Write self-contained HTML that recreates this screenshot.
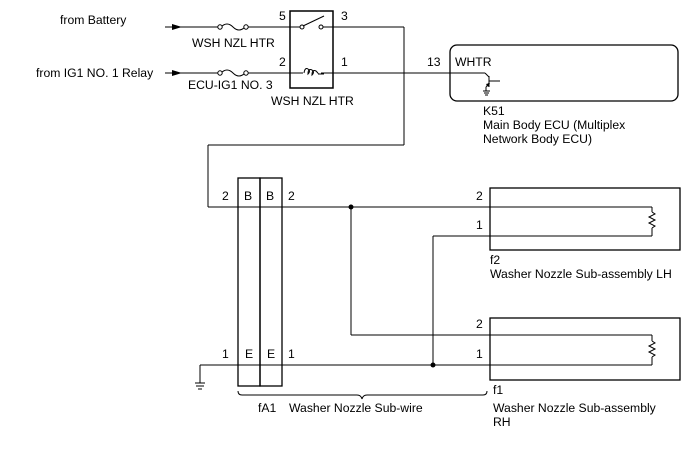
<!DOCTYPE html>
<html><head><style>body{margin:0;background:#fff}svg{display:block}text{font-family:"Liberation Sans",sans-serif;font-size:12.2px;fill:#000}</style></head><body>
<svg width="688" height="463" viewBox="0 0 688 463" xmlns="http://www.w3.org/2000/svg">
<g stroke="#000" fill="none" stroke-width="1">
<line x1="165" y1="27" x2="218" y2="27"/>
<path d="M221,27 q6,-6 12,0 q6,6 12,0"/>
<circle cx="220" cy="27" r="2.2" fill="#fff"/><circle cx="246" cy="27" r="2.2" fill="#fff"/>
<line x1="248" y1="27" x2="300" y2="27"/>
<line x1="165" y1="73" x2="218" y2="73"/>
<path d="M221,73 q6,-6 12,0 q6,6 12,0"/>
<circle cx="220" cy="73" r="2.2" fill="#fff"/><circle cx="246" cy="73" r="2.2" fill="#fff"/>
<line x1="248" y1="73" x2="303" y2="73"/>
<rect x="290" y="11" width="43" height="77" stroke-width="1.5"/>
<circle cx="302" cy="27" r="2" fill="#fff"/><circle cx="321" cy="27" r="2" fill="#fff"/>
<line x1="303" y1="26" x2="324" y2="16"/>
<path d="M304,73 q1,-6 4,-4 q3,2 0,5 q0,-6 4,-4 q3,2 0,5 q0,-6 4,-4 q3,3 2,3 l6,0"/>
<line x1="323" y1="27" x2="404" y2="27"/>
<line x1="404" y1="27" x2="404" y2="145"/>
<line x1="404" y1="145" x2="208" y2="145"/>
<line x1="208" y1="145" x2="208" y2="207"/>
<line x1="321" y1="73" x2="485" y2="73"/>
<rect x="450" y="45" width="228" height="56" rx="7" stroke-width="1.3"/>
<line x1="485" y1="73" x2="489" y2="77"/>
<line x1="489" y1="76" x2="489" y2="87"/>
<line x1="489" y1="81" x2="500" y2="81"/>
<line x1="489" y1="83" x2="486" y2="87"/>
<line x1="486" y1="87" x2="486" y2="91"/>
<line x1="483" y1="91" x2="490" y2="91"/><line x1="484" y1="93" x2="489" y2="93"/><line x1="485" y1="95" x2="488" y2="95"/>
<rect x="238" y="178" width="22" height="208" stroke-width="1.3"/>
<rect x="260" y="178" width="22" height="208" stroke-width="1.3"/>
<line x1="208" y1="207" x2="652" y2="207"/>
<line x1="200" y1="365" x2="652" y2="365"/>
<line x1="351" y1="207" x2="351" y2="335"/>
<line x1="351" y1="335" x2="652" y2="335"/>
<line x1="433" y1="236" x2="652" y2="236"/>
<line x1="433" y1="236" x2="433" y2="365"/>
<line x1="652" y1="207" x2="652" y2="212"/>
<path d="M652,212 l3,2 l-6,3 l6,3 l-6,3 l6,3 l-3,2"/>
<line x1="652" y1="228" x2="652" y2="236"/>
<line x1="652" y1="335" x2="652" y2="341"/>
<path d="M652,341 l3,2 l-6,3 l6,3 l-6,3 l6,3 l-3,2"/>
<line x1="652" y1="357" x2="652" y2="365"/>
<rect x="490" y="188" width="190" height="62" stroke-width="1.3"/>
<rect x="490" y="318" width="190" height="62" stroke-width="1.3"/>
<line x1="200" y1="365" x2="200" y2="383"/>
<line x1="195" y1="383" x2="205" y2="383"/><line x1="196" y1="386" x2="204" y2="386"/><line x1="198" y1="389" x2="202" y2="389"/>
<path d="M238,391 q0,4 4,4 l115,0 q4,0 5,4 q1,-4 5,-4 l116,0 q4,0 4,-4"/>
</g>
<g fill="#000">
<polygon points="172,24 182,27 172,30"/>
<polygon points="172,70 182,73 172,76"/>
<circle cx="351" cy="207" r="2.5"/><circle cx="433" cy="365" r="2.5"/>
<polygon points="486,84 490,83 488,87"/>
</g>
<text x="60" y="24">from Battery</text>
<text x="192" y="47">WSH NZL HTR</text>
<text x="36" y="77">from IG1 NO. 1 Relay</text>
<text x="188" y="89">ECU-IG1 NO. 3</text>
<text x="271" y="105">WSH NZL HTR</text>
<text x="279" y="20">5</text><text x="341" y="20">3</text>
<text x="279" y="66">2</text><text x="341" y="66">1</text>
<text x="427" y="66">13</text>
<text x="455" y="66">WHTR</text>
<text x="483" y="115">K51</text>
<text x="483" y="129">Main Body ECU (Multiplex</text>
<text x="483" y="143">Network Body ECU)</text>
<text x="222" y="200">2</text><text x="244" y="200">B</text><text x="266" y="200">B</text><text x="288" y="200">2</text>
<text x="222" y="358">1</text><text x="245" y="358">E</text><text x="267" y="358">E</text><text x="288" y="358">1</text>
<text x="476" y="200">2</text><text x="476" y="229">1</text>
<text x="476" y="328">2</text><text x="476" y="358">1</text>
<text x="490" y="264">f2</text>
<text x="490" y="278">Washer Nozzle Sub-assembly LH</text>
<text x="493" y="394">f1</text>
<text x="493" y="412">Washer Nozzle Sub-assembly</text>
<text x="493" y="426">RH</text>
<text x="258" y="412">fA1</text>
<text x="289" y="412">Washer Nozzle Sub-wire</text>
</svg>
</body></html>
